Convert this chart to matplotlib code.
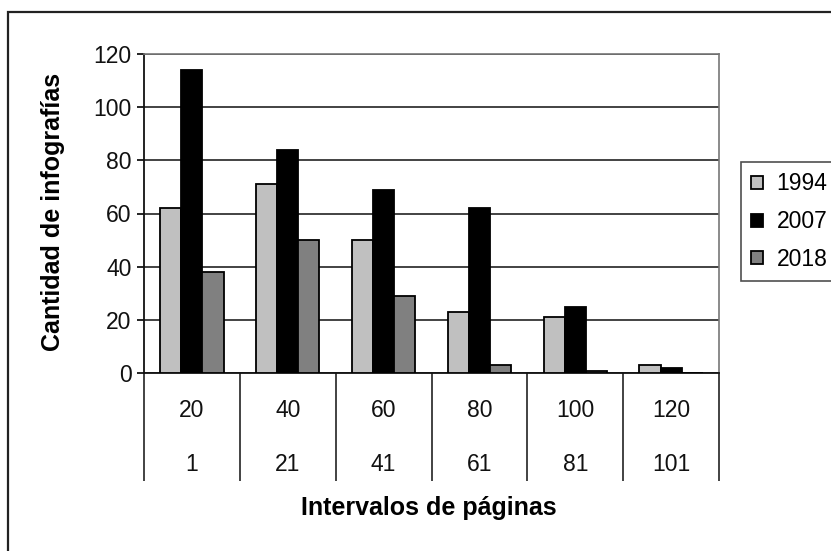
import matplotlib
matplotlib.use("Agg")
import matplotlib.pyplot as plt
import matplotlib.patches as patches
import numpy as np

plt.rcParams['font.family'] = ['Liberation Sans', 'DejaVu Sans']

upper_labels = ['20', '40', '60', '80', '100', '120']
lower_labels = ['1', '21', '41', '61', '81', '101']
series_names = ['1994', '2007', '2018']
v1994 = [62, 71, 50, 23, 21, 3]
v2007 = [114, 84, 69, 62, 25, 2]
v2018 = [38, 50, 29, 3, 0.6, 0]
colors = ['#c0c0c0', '#000000', '#808080']

W, H = 831, 551
fig = plt.figure(figsize=(W / 100, H / 100), dpi=100)
fig.patch.set_facecolor('white')

left, right, top, bottom = 144, 719, 54, 373
ax = fig.add_axes([left / W, 1 - bottom / H, (right - left) / W, (bottom - top) / H])

x = np.arange(len(upper_labels))
bw = 0.22
for k, (vals, c, name) in enumerate(zip([v1994, v2007, v2018], colors, series_names)):
    ax.bar(x + (k - 1) * bw, vals, width=bw, color=c, edgecolor='black',
           linewidth=1.3, label=name, zorder=3)

ax.set_ylim(0, 120)
ax.set_xlim(-0.5, len(upper_labels) - 0.5)
ax.set_yticks(np.arange(0, 121, 20))
ax.yaxis.grid(True, color='#222222', linewidth=1.2, zorder=0)
ax.set_axisbelow(True)
ax.tick_params(axis='y', labelsize=16.5, length=5, width=1.2, direction='out', pad=4,
               labelcolor='#111111')

ax.set_xticks(x)
ax.set_xticklabels([])
ax.tick_params(axis='x', which='major', length=0)
ax.set_xticks(np.arange(len(upper_labels) + 1) - 0.5, minor=True)
ax.tick_params(axis='x', which='minor', length=78, width=1.2, color='#222222', direction='out')

for i in range(len(upper_labels)):
    ax.text(i, -0.116, upper_labels[i], transform=ax.get_xaxis_transform(),
            ha='center', va='center', fontsize=16.5, color='#111111')
    ax.text(i, -0.288, lower_labels[i], transform=ax.get_xaxis_transform(),
            ha='center', va='center', fontsize=16.5, color='#111111')

for s in ['left', 'bottom']:
    ax.spines[s].set_color('#111111')
    ax.spines[s].set_linewidth(1.3)
ax.spines['right'].set_color('#777777')
ax.spines['right'].set_linewidth(1.2)
ax.spines['top'].set_color('#777777')
ax.spines['top'].set_linewidth(1.2)

fig.text(53 / W, 1 - 212 / H, 'Cantidad de infografías', rotation=90,
         ha='center', va='center', fontsize=18, fontweight='bold')
fig.text(428.5 / W, 1 - 508 / H, 'Intervalos de páginas',
         ha='center', va='center', fontsize=18, fontweight='bold')

leg = fig.legend(loc='upper left', bbox_to_anchor=(741 / W, 1 - 162 / H),
                 frameon=True, fancybox=False, edgecolor='#222222',
                 fontsize=16.5, handlelength=0.5, handleheight=0.5,
                 handletextpad=0.6, labelspacing=0.65, borderpad=0.45,
                 borderaxespad=0)
leg.get_frame().set_linewidth(1.2)

border = patches.Rectangle((8 / W, -0.2), 2, 1.2 - 12 / H, fill=False,
                           edgecolor='#222222', linewidth=1.6,
                           transform=fig.transFigure, clip_on=False)
fig.add_artist(border)

fig.savefig('out.png', dpi=100, facecolor='white')
